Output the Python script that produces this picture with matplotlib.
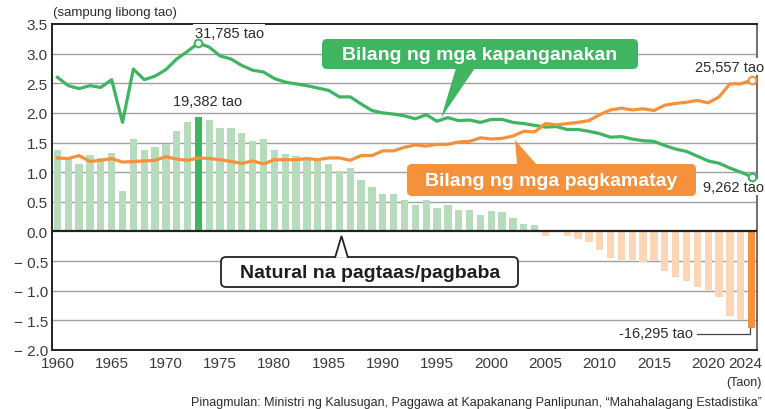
import matplotlib
matplotlib.use("Agg")
import matplotlib.pyplot as plt
import matplotlib.transforms as mtransforms
from matplotlib.patches import FancyBboxPatch, Polygon

plt.rcParams['font.family'] = ['Liberation Sans', 'DejaVu Sans']

# values in units of 10,000 persons (sampung libong tao)
years = list(range(1960, 2025))
births = [2.60, 2.46, 2.41, 2.46, 2.43, 2.56, 1.84, 2.74, 2.56, 2.62,
          2.73, 2.91, 3.04, 3.1785, 3.11, 2.96, 2.91, 2.80, 2.72, 2.69,
          2.58, 2.52, 2.49, 2.46, 2.42, 2.38, 2.27, 2.27, 2.15, 2.04,
          2.00, 1.98, 1.95, 1.90, 1.97, 1.86, 1.92, 1.87, 1.88, 1.84,
          1.89, 1.89, 1.84, 1.82, 1.79, 1.76, 1.77, 1.72, 1.72, 1.69,
          1.65, 1.59, 1.60, 1.56, 1.53, 1.52, 1.45, 1.39, 1.35, 1.27,
          1.19, 1.15, 1.07, 1.00, 0.9262]
deaths = [1.24, 1.23, 1.28, 1.18, 1.20, 1.23, 1.17, 1.18, 1.19, 1.20,
          1.26, 1.22, 1.20, 1.24, 1.23, 1.21, 1.18, 1.15, 1.19, 1.14,
          1.21, 1.21, 1.21, 1.23, 1.21, 1.24, 1.24, 1.20, 1.28, 1.28,
          1.36, 1.36, 1.42, 1.46, 1.44, 1.47, 1.47, 1.51, 1.52, 1.58,
          1.56, 1.57, 1.61, 1.69, 1.68, 1.82, 1.80, 1.82, 1.84, 1.87,
          1.97, 2.05, 2.08, 2.05, 2.07, 2.04, 2.13, 2.16, 2.18, 2.21,
          2.17, 2.27, 2.49, 2.49, 2.5557]
natural = [1.37, 1.24, 1.13, 1.29, 1.24, 1.33, 0.69, 1.56, 1.37, 1.43,
           1.48, 1.70, 1.85, 1.9382, 1.88, 1.75, 1.75, 1.66, 1.53, 1.56,
           1.38, 1.30, 1.28, 1.20, 1.20, 1.14, 1.02, 1.07, 0.87, 0.75,
           0.64, 0.64, 0.53, 0.44, 0.53, 0.40, 0.45, 0.37, 0.37, 0.27,
           0.34, 0.33, 0.23, 0.13, 0.11, -0.07, -0.01, -0.08, -0.12, -0.17,
           -0.32, -0.44, -0.48, -0.48, -0.52, -0.50, -0.67, -0.76, -0.83, -0.94,
           -0.98, -1.11, -1.43, -1.49, -1.6295]
peak_year = 1973
y_ticks = [3.5, 3.0, 2.5, 2.0, 1.5, 1.0, 0.5, 0.0, -0.5, -1.0, -1.5, -2.0]
y_labels = ["3.5", "3.0", "2.5", "2.0", "1.5", "1.0", "0.5", "0.0",
            "\u2212 0.5", "\u2212 1.0", "\u2212 1.5", "\u2212 2.0"]
x_ticks = [1960, 1965, 1970, 1975, 1980, 1985, 1990, 1995, 2000, 2005,
           2010, 2015, 2020, 2024]

GREEN = "#3fb562"
ORANGE = "#f5913a"
LIGHT_GREEN = "#b6dcbc"
LIGHT_ORANGE = "#fdd7b5"
TXT = "#2b2b2b"

W, H = 765, 410
fig = plt.figure(figsize=(W / 100, H / 100), dpi=100)
ax = fig.add_axes([52 / W, 1 - 351 / H, (757 - 52) / W, (351 - 25) / H])
# pixel transform, origin at top-left of the image
pix = mtransforms.Affine2D().scale(1 / W, -1 / H).translate(0, 1) + fig.transFigure

colors = []
for yr, v in zip(years, natural):
    if yr == peak_year:
        colors.append(GREEN)
    elif yr == years[-1]:
        colors.append(ORANGE)
    elif v >= 0:
        colors.append(LIGHT_GREEN)
    else:
        colors.append(LIGHT_ORANGE)
ax.bar(years, natural, width=0.68, color=colors, zorder=2)

ax.plot(years, births, color=GREEN, lw=2.3, zorder=4, solid_joinstyle='round')
ax.plot(years, deaths, color=ORANGE, lw=2.3, zorder=4, solid_joinstyle='round')
i_peak = years.index(peak_year)
for xv, yv, c in [(peak_year, births[i_peak], GREEN), (years[-1], births[-1], GREEN),
                  (years[-1], deaths[-1], ORANGE)]:
    ax.plot(xv, yv, 'o', ms=5.5, mfc='white', mec=c, mew=1.5, zorder=9, clip_on=False)

ax.set_xlim(1959.5, 2024.5)
ax.set_ylim(-2.0, 3.5)
ax.set_yticks(y_ticks)
ax.set_yticklabels(y_labels)
ax.set_xticks(x_ticks)
ax.tick_params(length=0, labelsize=11, colors="#3a3a3a", pad=3)
ax.tick_params(axis='x', pad=4)
# nudge last year label left so it stays inside the image
last_lbl = ax.get_xticklabels()[-1]
last_lbl.set_transform(last_lbl.get_transform() +
                       mtransforms.ScaledTranslation(-6 / 100, 0, fig.dpi_scale_trans))
for yv in y_ticks[1:-1]:
    if yv != 0:
        ax.axhline(yv, color="#a0a0a0", lw=1.0, zorder=1)
ax.axhline(0, color="#222222", lw=1.6, zorder=3)
for s in ['left', 'bottom', 'top']:
    ax.spines[s].set_color("#222222")
    ax.spines[s].set_linewidth(1.4)
ax.spines['right'].set_color("#555555")
ax.spines['right'].set_linewidth(1.2)

# texts
fig.text(53, 13, "(sampung libong tao)", transform=pix, fontsize=9.5, color=TXT, va='center')
ax.text(peak_year - 0.35, 3.35, "31,785 tao", fontsize=10.5, color=TXT, ha='left', va='center',
        zorder=7, bbox=dict(fc='white', ec='none', pad=1))
ax.text(peak_year + 0.8, 2.2, "19,382 tao", fontsize=10.5, color=TXT, ha='center', va='center')
ax.text(years[-1] + 1.15, 2.78, "25,557 tao", fontsize=10.5, color=TXT, ha='right', va='center',
        zorder=7, bbox=dict(fc='white', ec='none', pad=1), clip_on=False)
ax.text(years[-1] + 1.15, 0.75, "9,262 tao", fontsize=10.5, color=TXT, ha='right', va='center',
        zorder=7, bbox=dict(fc='white', ec='none', pad=0.5), clip_on=False)
ax.text(2018.6, -1.72, "-16,295 tao", fontsize=10.5, color=TXT, ha='right', va='center', zorder=7)
ax.plot([2019.0, years[-1] - 0.1, years[-1] - 0.1], [-1.735, -1.735, natural[-1]],
        color="#444444", lw=0.9, zorder=7)

fig.text(762, 383, "(Taon)", transform=pix, fontsize=9, color=TXT, ha='right', va='center')
fig.text(762, 403, "Pinagmulan: Ministri ng Kalusugan, Paggawa at Kapakanang Panlipunan, "
         "\u201cMahahalagang Estadistika\u201d", transform=pix, fontsize=9, color=TXT,
         ha='right', va='center')

# callout boxes
fig.patches.append(FancyBboxPatch((322, 40), 316, 30, boxstyle='round,pad=0,rounding_size=5',
                                  transform=pix, fc=GREEN, ec='none', zorder=8))
fig.patches.append(Polygon([[456, 69], [441, 119], [475, 69]], transform=pix,
                           fc=GREEN, ec='none', zorder=8))
fig.text(480, 55, "Bilang ng mga kapanganakan", transform=pix, fontsize=14, fontweight='bold',
         color='white', ha='center', va='center', zorder=9)

fig.patches.append(FancyBboxPatch((407, 165), 289, 32, boxstyle='round,pad=0,rounding_size=5',
                                  transform=pix, fc=ORANGE, ec='none', zorder=8))
fig.patches.append(Polygon([[517, 166], [515, 141], [537, 166]], transform=pix,
                           fc=ORANGE, ec='none', zorder=8))
fig.text(551, 182, "Bilang ng mga pagkamatay", transform=pix, fontsize=14, fontweight='bold',
         color='white', ha='center', va='center', zorder=9)

fig.patches.append(FancyBboxPatch((221, 258), 297, 30, boxstyle='round,pad=0,rounding_size=5',
                                  transform=pix, fc='white', ec='#222222', lw=1.3, zorder=8))
fig.patches.append(Polygon([[335, 258.8], [341.5, 237], [348, 258.8]], closed=False, transform=pix,
                           fc='white', ec='#222222', lw=1.3, zorder=8))
fig.text(370, 274, "Natural na pagtaas/pagbaba", transform=pix, fontsize=14, fontweight='bold',
         color='#1e1e1e', ha='center', va='center', zorder=9)

fig.savefig("out.png", dpi=100)
